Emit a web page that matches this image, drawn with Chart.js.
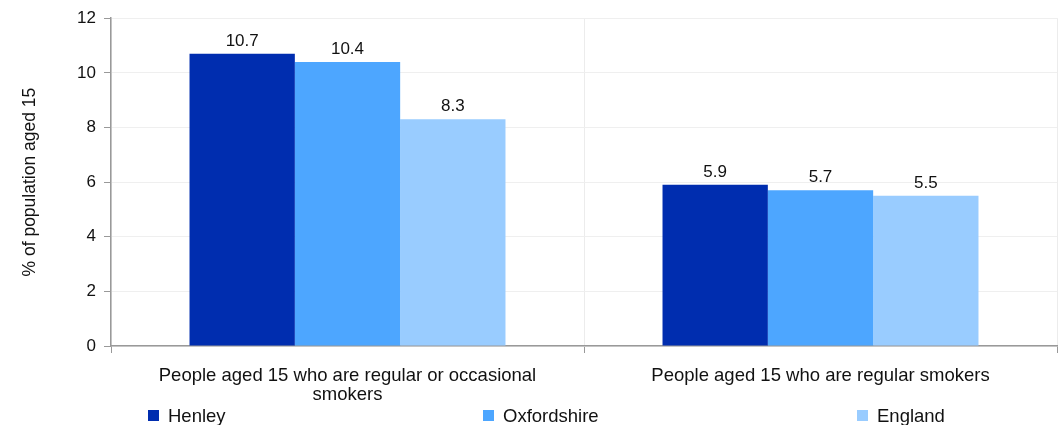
<!DOCTYPE html>
<html>
<head>
<meta charset="utf-8">
<script src="https://cdn.jsdelivr.net/npm/chart.js@4/dist/chart.umd.min.js"></script>
<style>
  html, body { margin: 0; padding: 0; background: #fff; }
  #wrap { width: 1059px; height: 425px; position: relative; }
</style>
</head>
<body>
<div id="wrap"><canvas id="c"></canvas></div>
<script>
// chart data
const categories = [
  ['People aged 15 who are regular or occasional', 'smokers'],
  'People aged 15 who are regular smokers'
];
const henley = [10.7, 5.9];
const oxfordshire = [10.4, 5.7];
const england = [8.3, 5.5];
const yTicks = [0, 2, 4, 6, 8, 10, 12];

const FONT = 'Liberation Sans, Arial, sans-serif';
const colours = ['#002DAF', '#4DA6FF', '#99CCFF'];

// value labels above each bar
const barLabels = {
  id: 'barLabels',
  afterDatasetsDraw(chart) {
    const ctx = chart.ctx;
    ctx.save();
    ctx.font = '17px ' + FONT;
    ctx.fillStyle = '#111';
    ctx.textAlign = 'center';
    ctx.textBaseline = 'alphabetic';
    chart.data.datasets.forEach((ds, i) => {
      chart.getDatasetMeta(i).data.forEach((bar, j) => {
        ctx.fillText(ds.data[j].toFixed(1), bar.x, bar.y - 8);
      });
    });
    ctx.restore();
  }
};

// legend along the bottom, spaced like the original
const bottomLegend = {
  id: 'bottomLegend',
  afterDraw(chart) {
    const ctx = chart.ctx;
    const xs = [148, 483, 857];
    const y = 416;
    ctx.save();
    ctx.font = '18.5px ' + FONT;
    ctx.textBaseline = 'alphabetic';
    ctx.textAlign = 'left';
    chart.data.datasets.forEach((ds, i) => {
      ctx.fillStyle = ds.backgroundColor;
      ctx.fillRect(xs[i], y - 6, 11, 11);
      ctx.fillStyle = '#111';
      ctx.fillText(ds.label, xs[i] + 20, y + 6);
    });
    ctx.restore();
  }
};

new Chart(document.getElementById('c'), {
  type: 'bar',
  data: {
    labels: categories,
    datasets: [
      { label: 'Henley', data: henley, backgroundColor: colours[0] },
      { label: 'Oxfordshire', data: oxfordshire, backgroundColor: colours[1] },
      { label: 'England', data: england, backgroundColor: colours[2] }
    ]
  },
  options: {
    responsive: true,
    maintainAspectRatio: false,
    animation: false,
    layout: { padding: { top: 17, right: 2, left: 0, bottom: 0 } },
    datasets: { bar: { categoryPercentage: 0.668, barPercentage: 1.0 } },
    plugins: {
      legend: { display: false },
      tooltip: { enabled: false }
    },
    scales: {
      x: {
        grid: { offset: true, color: '#ececec', tickColor: '#999', tickLength: 7, lineWidth: 1 },
        border: { color: '#999', width: 1.5 },
        ticks: { color: '#111', font: { family: FONT, size: 18.5, lineHeight: 1.03 }, padding: 13, maxRotation: 0 },
        afterFit(scale) { scale.height = 79; }
      },
      y: {
        min: 0,
        max: 12,
        afterBuildTicks(scale) { scale.ticks = yTicks.map(v => ({ value: v })); },
        grid: { color: '#efefef', tickColor: '#999', tickLength: 7 },
        border: { color: '#999', width: 1.5 },
        ticks: { color: '#111', font: { family: FONT, size: 17 }, padding: 8 },
        title: {
          display: true,
          text: '% of population aged 15',
          color: '#111',
          font: { family: FONT, size: 17.5 },
          padding: { top: 20, bottom: 0 }
        },
        afterFit(scale) { scale.width = 111; }
      }
    }
  },
  plugins: [barLabels, bottomLegend]
});
</script>
</body>
</html>
